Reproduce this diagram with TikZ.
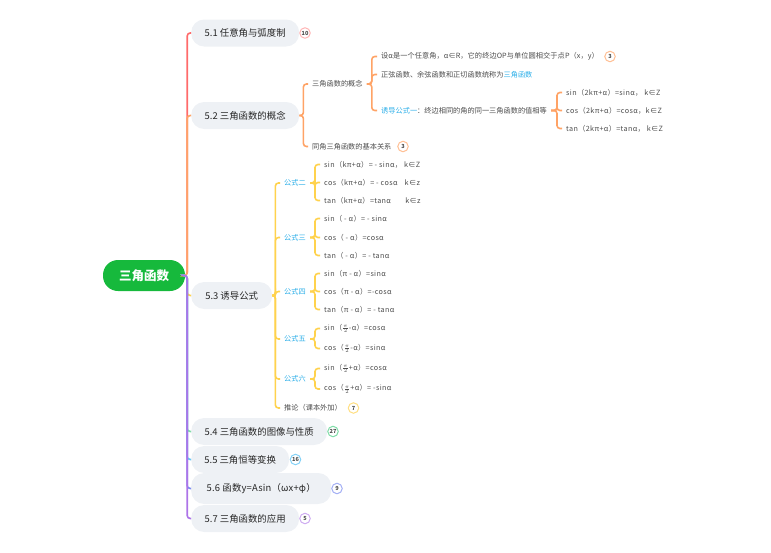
\documentclass[tikz,border=0pt]{standalone}
\usepackage{fontspec}
\setmainfont{Noto Sans CJK SC}
\definecolor{rootgreen}{HTML}{16B93C}
\definecolor{topicgray}{HTML}{EEF1F5}
\definecolor{linkblue}{HTML}{2BAEE8}
\definecolor{cred}{HTML}{FF6B6B}
\definecolor{corange}{HTML}{FFA366}
\definecolor{cyellow}{HTML}{FFD24D}
\definecolor{cgreen}{HTML}{7FDDA8}
\definecolor{csky}{HTML}{66C7F5}
\definecolor{cblue}{HTML}{7C8CF0}
\definecolor{cpurple}{HTML}{AD73E8}
\tikzset{
    rootbox/.style={fill=rootgreen,text=white,rounded corners=15pt,minimum width=82,minimum height=31,font=\fontsize{12.5}{14}\selectfont\bfseries},
    topic/.style={anchor=west,fill=topicgray,rounded corners=13pt,minimum height=27,inner sep=0pt,text=black!85,font=\fontsize{9.4}{11}\selectfont},
    leaf/.style={anchor=west,inner xsep=4pt,inner ysep=0pt,text=black!70,font=\fontsize{7.2}{8}\selectfont},
    formula/.style={leaf,font=\fontsize{7.2}{8}\selectfont\addfontfeature{LetterSpace=5}},
    badge/.style={circle,draw,fill=white,line width=1pt,inner sep=0pt,minimum size=10.5,text=black!70,font=\fontsize{5.6}{6}\selectfont\bfseries},
    stem/.style={line width=1.6pt,rounded corners=3pt},
}
\NewDocumentCommand{\fork}{mmmm}{%
\draw[stem,#1] (#3.east) -- ++(#2,0) |- (#4.west);%
}
\newcommand{\hl}[1]{\textcolor{linkblue}{#1}}
\begin{document}
\begin{tikzpicture}[x=1pt,y=-1pt]
        \useasboundingbox (0,0) rectangle (771,552);
        % Root
        \node[rootbox] (root) at (144,275.5) {三角函数};

        % Topics
        \node[topic,minimum width=108] (t1) at (191,33) {5.1 任意角与弧度制};
        \node[topic,minimum width=108] (t2) at (191,115.5) {5.2 三角函数的概念};
        \node[topic,minimum width=81] (t3) at (191,295.5) {5.3 诱导公式};
        \node[topic,minimum width=136] (t4) at (191,431.5) {5.4 三角函数的图像与性质};
        \node[topic,minimum width=98] (t5) at (191,459.5) {5.5 三角恒等变换};
        \node[topic,minimum width=140,minimum height=31] (t6) at (191,488.5) {\addfontfeature{LetterSpace=2}5.6 函数y=Asin（\textit{ω}x+φ）};
        \node[topic,minimum width=108] (t7) at (191,518.5) {5.7 三角函数的应用};
        \node[badge,draw=cred!50] (b1) at (305,33) {10};
        \node[badge,draw=cgreen] (b4) at (333,431.5) {27};
        \node[badge,draw=csky!80] (b5) at (295.5,459.5) {16};
        \node[badge,draw=cblue!70] (b6) at (337,488.5) {9};
        \node[badge,draw=cpurple!60] (b7) at (305,518.5) {5};

        % Under 5.2
        \node[leaf] (g1) at (308,84) {三角函数的概念};
        \node[leaf] (g2) at (308,146.5) {同角三角函数的基本关系};
        \node[badge,draw=corange!70] (b8) at (403,146.5) {3};
        \node[leaf] (g11) at (377,56.5) {\addfontfeature{LetterSpace=1}设α是一个任意角，α∈R，它的终边OP与单位圆相交于点P（x，y）};
        \node[badge,draw=corange!70] (b9) at (610,56.5) {3};
        \node[leaf] (g12) at (377,74.5) {正弦函数、余弦函数和正切函数统称为\hl{三角函数}};
        \node[leaf] (g13) at (377,110.5) {\hl{诱导公式一}：终边相同的角的同一三角函数的值相等};
        \node[formula] (g131) at (562,92.5) {sin（2kπ+α）=sinα， k∈Z};
        \node[formula] (g132) at (562,110.5) {cos（2kπ+α）=cosα，k∈Z};
        \node[formula] (g133) at (562,128.5) {tan（2kπ+α）=tanα， k∈Z};

        % Under 5.3
        \node[leaf] (f2) at (280,183) {\hl{公式二}};
        \node[leaf] (f3) at (280,237.5) {\hl{公式三}};
        \node[leaf] (f4) at (280,291.5) {\hl{公式四}};
        \node[leaf] (f5) at (280,339) {\hl{公式五}};
        \node[leaf] (f6) at (280,379) {\hl{公式六}};
        \node[leaf] (f7) at (280,408) {推论（课本外加）};
        \node[badge,draw=cyellow!70] (b10) at (353.5,408) {7};
        \node[formula] (f21) at (320,164.5) {sin（kπ+α）= - sinα， k∈Z};
        \node[formula] (f22) at (320,182.5) {cos（kπ+α）= - cosα\quad k∈z};
        \node[formula] (f23) at (320,200.5) {tan（kπ+α）=tanα\qquad k∈z};
        \node[formula] (f31) at (320,218.5) {sin（ - α）= - sinα};
        \node[formula] (f32) at (320,237.5) {cos（ - α）=cosα};
        \node[formula] (f33) at (320,255.5) {tan（ - α）= - tanα};
        \node[formula] (f41) at (320,273.5) {sin（π - α）=sinα};
        \node[formula] (f42) at (320,291.5) {cos（π - α）=-cosα};
        \node[formula] (f43) at (320,309.5) {tan（π - α）= - tanα};
        \node[formula] (f51) at (320,328.5) {sin（$\frac{\pi}{2}$-α）=cosα};
        \node[formula] (f52) at (320,348.5) {cos（$\frac{\pi}{2}$-α）=sinα};
        \node[formula] (f61) at (320,368.5) {sin（$\frac{\pi}{2}$+α）=cosα};
        \node[formula] (f62) at (320,389) {cos（$\frac{\pi}{2}$+α）= -sinα};

        % Root links
        \fork{cred}{2}{root}{t1}
        \fork{corange}{2}{root}{t2}
        \fork{cyellow}{2}{root}{t3}
        \fork{cgreen}{2}{root}{t4}
        \fork{csky}{2}{root}{t5}
        \fork{cblue}{2}{root}{t6}
        \fork{cpurple}{2}{root}{t7}

        % 5.2 links
        \foreach \g in {g1,g2} {\fork{corange}{4}{t2}{\g}}
        \foreach \g in {g11,g12,g13} {\fork{corange}{5}{g1}{\g}}
        \foreach \g in {g131,g132,g133} {\fork{corange}{6}{g13}{\g}}

        % 5.3 links
        \foreach \f in {f2,f3,f4,f5,f6,f7} {\fork{cyellow}{3}{t3}{\f}}
        \foreach \f in {f21,f22,f23} {\fork{cyellow}{5}{f2}{\f}}
        \foreach \f in {f31,f32,f33} {\fork{cyellow}{5}{f3}{\f}}
        \foreach \f in {f41,f42,f43} {\fork{cyellow}{5}{f4}{\f}}
        \foreach \f in {f51,f52} {\fork{cyellow}{5}{f5}{\f}}
        \foreach \f in {f61,f62} {\fork{cyellow}{5}{f6}{\f}}
    \end{tikzpicture}
\end{document}
